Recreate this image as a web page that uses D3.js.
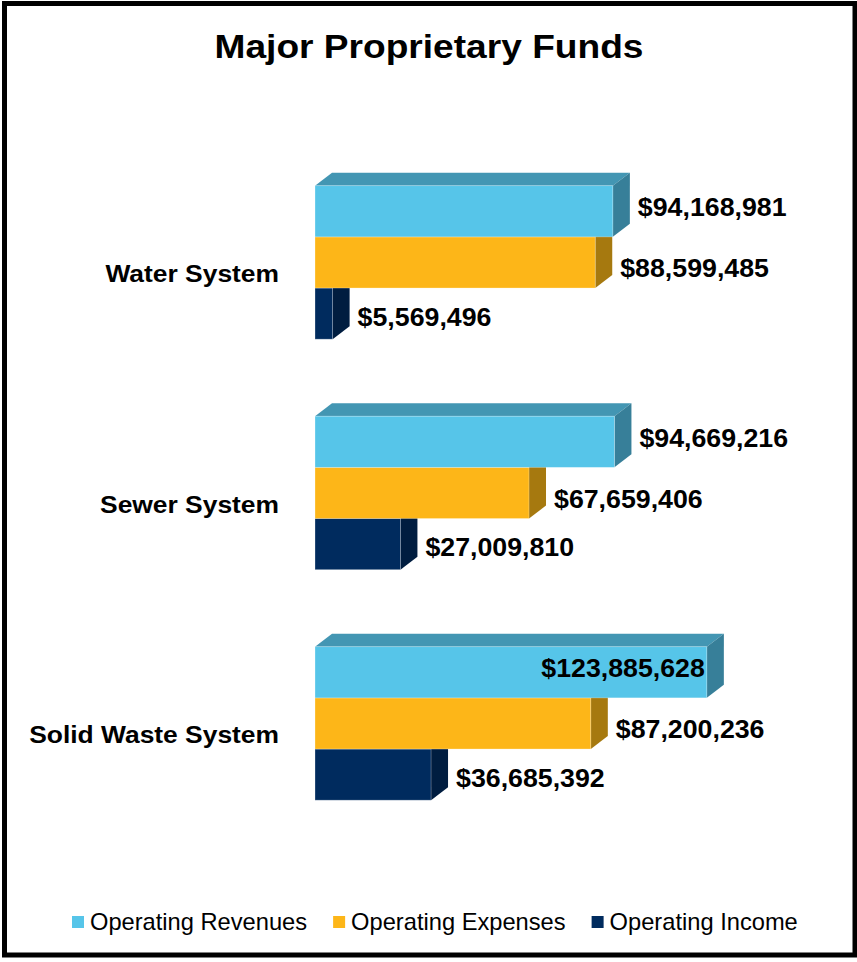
<!DOCTYPE html>
<html>
<head>
<meta charset="utf-8">
<script src="https://cdn.jsdelivr.net/npm/d3@7"></script>
<style>
  html, body { margin: 0; padding: 0; background: #fff; }
  svg { display: block; font-family: Arial, "Liberation Sans", sans-serif; }
</style>
</head>
<body>
<svg id="chart" width="857" height="962"></svg>
<script>
// Fund categories and the three operating measures for each
const categories = ["Water System", "Sewer System", "Solid Waste System"];
const seriesNames = ["Operating Revenues", "Operating Expenses", "Operating Income"];
const revenues = [94168981, 94669216, 123885628];
const expenses = [88599485, 67659406, 87200236];
const income = [5569496, 27009810, 36685392];
const title = "Major Proprietary Funds";

const seriesValues = [revenues, expenses, income];
const colors = [
  { front: "#56C5E9", top: "#4396B3", side: "#377F99" },
  { front: "#FDB618", top: "#C48E12", side: "#A6790F" },
  { front: "#002B5E", top: "#00234C", side: "#001D40" }
];

const W = 857, H = 962;
const svg = d3.select("#chart");
const depthX = 17, depthY = 13;

// frame
svg.append("rect")
  .attr("x", 4.5).attr("y", 3.5)
  .attr("width", 850.5).attr("height", 951.5)
  .attr("fill", "#fff").attr("stroke", "#000").attr("stroke-width", 5);

// title
svg.append("text")
  .attr("transform", "translate(429,58) scale(1.125,1)")
  .attr("text-anchor", "middle")
  .attr("font-size", 33).attr("font-weight", "bold")
  .attr("fill", "#000")
  .text(title);

// scales
const x = d3.scaleLinear().domain([0, 100e6]).range([315, 631.3]);
const y = d3.scaleBand().domain(categories)
  .range([108.7, 877.2]).paddingInner(0.334).paddingOuter(0.334);
const ySub = d3.scaleBand().domain(d3.range(seriesNames.length))
  .range([0, y.bandwidth()]);

const fmt = v => "$" + d3.format(",")(v);

// category labels
svg.append("g").selectAll("text")
  .data(categories)
  .join("text")
  .attr("transform", d => `translate(279,${y(d) + y.bandwidth() / 2 + 20}) scale(1.1,1)`)
  .attr("text-anchor", "end")
  .attr("font-size", 24).attr("font-weight", "bold")
  .attr("fill", "#000")
  .text(d => d);

// build bar records, drawn bottom series first so upper bars overlap lower tops
const bars = [];
categories.forEach((c, ci) => {
  for (let si = seriesNames.length - 1; si >= 0; si--) {
    bars.push({ cat: c, si, value: seriesValues[si][ci] });
  }
});

const gBars = svg.append("g");
bars.forEach(b => {
  const x0 = x(0), x1 = x(b.value);
  const y0 = y(b.cat) + ySub(b.si), y1 = y0 + ySub.bandwidth();
  const col = colors[b.si];
  const g = gBars.append("g");
  // top face
  g.append("path")
    .attr("d", `M${x0},${y0} L${x0 + depthX},${y0 - depthY} L${x1 + depthX},${y0 - depthY} L${x1},${y0} Z`)
    .attr("fill", col.top);
  // side face
  g.append("path")
    .attr("d", `M${x1},${y0} L${x1 + depthX},${y0 - depthY} L${x1 + depthX},${y1 - depthY} L${x1},${y1} Z`)
    .attr("fill", col.side);
  // front face
  g.append("rect")
    .attr("x", x0).attr("y", y0)
    .attr("width", x1 - x0).attr("height", y1 - y0)
    .attr("fill", col.front)
    .attr("stroke", "rgba(255,255,255,0.35)").attr("stroke-width", 0.8);
});

// value labels
const labelNudge = [-4, 6, 3];
const gLabels = svg.append("g");
bars.forEach(b => {
  const x1 = x(b.value);
  const yc = y(b.cat) + ySub(b.si) + ySub.bandwidth() / 2 + labelNudge[b.si];
  const t = gLabels.append("text")
    .attr("font-size", 25).attr("font-weight", "bold")
    .attr("fill", "#000")
    .text(fmt(b.value));
  const len = t.node().getComputedTextLength() * 1.07;
  let lx = x1 + depthX + 8, anchor = "start";
  if (lx + len > W - 12) { lx = x1 - 2; anchor = "end"; }
  t.attr("text-anchor", anchor)
   .attr("transform", `translate(${lx},${yc + 9}) scale(1.07,1)`);
});

// legend
const gLeg = svg.append("g");
let lx = 72;
seriesNames.forEach((name, i) => {
  gLeg.append("rect")
    .attr("x", lx).attr("y", 916)
    .attr("width", 12).attr("height", 12)
    .attr("fill", colors[i].front);
  const t = gLeg.append("text")
    .attr("transform", `translate(${lx + 18},930) scale(1.03,1)`)
    .attr("font-size", 23)
    .attr("fill", "#000")
    .text(name);
  lx += 18 + t.node().getComputedTextLength() * 1.03 + 26;
});
</script>
</body>
</html>
